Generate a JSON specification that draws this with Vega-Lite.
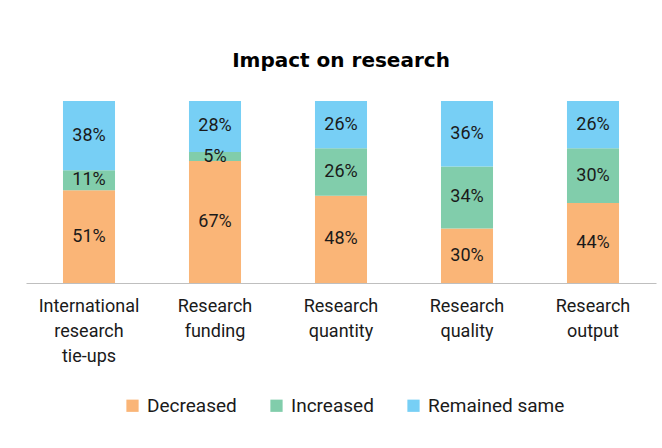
{
  "$schema": "https://vega.github.io/schema/vega-lite/v6.json",
  "width": 630,
  "height": 182,
  "padding": {"left": 26, "top": 51, "right": 6, "bottom": 10},
  "background": "white",
  "config": {
    "font": "Roboto",
    "view": {"stroke": null}
  },
  "title": {
    "text": "Impact on research",
    "fontSize": 20,
    "fontWeight": "bold",
    "font": "DejaVu Sans",
    "color": "#000000",
    "anchor": "middle",
    "offset": 30
  },
  "data": {
    "values": [
      {"item": "International research tie-ups", "status": "Decreased", "value": 51},
      {"item": "International research tie-ups", "status": "Increased", "value": 11},
      {"item": "International research tie-ups", "status": "Remained same", "value": 38},
      {"item": "Research funding", "status": "Decreased", "value": 67},
      {"item": "Research funding", "status": "Increased", "value": 5},
      {"item": "Research funding", "status": "Remained same", "value": 28},
      {"item": "Research quantity", "status": "Decreased", "value": 48},
      {"item": "Research quantity", "status": "Increased", "value": 26},
      {"item": "Research quantity", "status": "Remained same", "value": 26},
      {"item": "Research quality", "status": "Decreased", "value": 30},
      {"item": "Research quality", "status": "Increased", "value": 34},
      {"item": "Research quality", "status": "Remained same", "value": 36},
      {"item": "Research output", "status": "Decreased", "value": 44},
      {"item": "Research output", "status": "Increased", "value": 30},
      {"item": "Research output", "status": "Remained same", "value": 26}
    ]
  },
  "transform": [
    {"stack": "value", "groupby": ["item"], "sort": [{"field": "status", "order": "ascending"}], "as": ["v0", "v1"]},
    {"calculate": "(datum.v0 + datum.v1) / 2", "as": "mid"},
    {"calculate": "datum.value + '%'", "as": "label"}
  ],
  "encoding": {
    "x": {
      "field": "item",
      "type": "nominal",
      "sort": null,
      "scale": {"paddingInner": 0.587, "paddingOuter": 0.2935},
      "axis": {
        "title": null,
        "labelAngle": 0,
        "labelFontSize": 18,
        "labelColor": "#1a1a1a",
        "labelPadding": 14,
        "labelLineHeight": 25,
        "labelBaseline": "top",
        "ticks": false,
        "domainColor": "#BFBFBF",
        "domainWidth": 1,
        "labelExpr": "datum.value == 'International research tie-ups' ? ['International', 'research', 'tie-ups'] : split(datum.value, ' ')"
      }
    }
  },
  "layer": [
    {
      "mark": {"type": "bar"},
      "encoding": {
        "y": {"field": "v0", "type": "quantitative", "scale": {"domain": [0, 100]}, "axis": null},
        "y2": {"field": "v1"},
        "color": {
          "field": "status",
          "type": "nominal",
          "scale": {"domain": ["Decreased", "Increased", "Remained same"], "range": ["#FAB577", "#81CDAB", "#77CFF5"]},
          "legend": {
            "orient": "none",
            "legendX": 97,
            "legendY": 295,
            "direction": "horizontal",
            "title": null,
            "symbolType": "square",
            "symbolSize": 150,
            "symbolStrokeWidth": 0,
            "labelFontSize": 19,
            "labelColor": "#1a1a1a",
            "columnPadding": 30,
            "labelOffset": 5
          }
        }
      }
    },
    {
      "mark": {"type": "text", "fontSize": 18, "color": "#1a1a1a"},
      "encoding": {
        "y": {"field": "mid", "type": "quantitative", "scale": {"domain": [0, 100]}},
        "text": {"field": "label", "type": "nominal"},
        "detail": {"field": "status"}
      }
    }
  ]
}
